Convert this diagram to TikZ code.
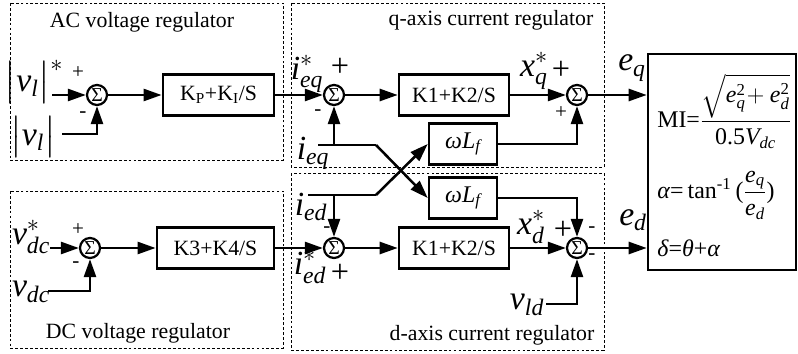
\documentclass[tikz,border=0pt]{standalone}
\usepackage{amsmath}
\usepackage{fontspec}
\setmainfont{Liberation Serif}
\usetikzlibrary{positioning, arrows.meta}
\tikzset{
  blk/.style={draw, line width=1.8pt, minimum height=1.03cm, inner sep=1pt,
              font=\fontsize{15.5}{18}\selectfont},
  sumc/.style={draw, circle, line width=1.6pt, minimum size=0.5cm, inner sep=0pt,
               font=\fontsize{14}{16}\selectfont},
  sig/.style={-{Triangle[length=4.5mm, width=3mm]}, line width=1.8pt},
  wire/.style={line width=1.8pt},
  zone/.style={draw, line width=0.6pt, dash pattern=on 2pt off 1.5pt},
  ttl/.style={font=\fontsize{15.5}{18}\selectfont, inner sep=0pt},
  var/.style={font=\fontsize{24}{26}\selectfont, inner sep=0pt},
  sgn/.style={font=\fontsize{15}{18}\selectfont, inner sep=0pt},
  bigsgn/.style={font=\fontsize{23}{26}\selectfont, inner sep=0pt},
  eqn/.style={font=\fontsize{17}{20}\selectfont, inner sep=0pt, anchor=west},
}

\begin{document}
\begin{tikzpicture}[x=0.025cm, y=-0.025cm]
  \useasboundingbox (0,0) rectangle (798,354);

  % regulator frames
  \draw[zone] (10,3) rectangle (283,160);
  \draw[zone] (291,3) rectangle (604,167);
  \draw[zone] (10,191) rectangle (283,348);
  \draw[zone] (291,173) rectangle (604,350);
  \node[ttl] (tac) at (142,22)  {AC voltage regulator};
  \node[ttl] (tq)  at (491,20)  {q-axis current regulator};
  \node[ttl] (tdc) at (138,333) {DC voltage regulator};
  \node[ttl] (td)  at (492,335) {d-axis current regulator};

  % summing junctions
  \node[sumc] (sac) at (97,95)   {Σ};
  \node[sumc] (sq)  at (334,95)  {Σ};
  \node[sumc] (sq2) at (577,95)  {Σ};
  \node[sumc] (sdc) at (90,248)  {Σ};
  \node[sumc] (sd)  at (334,248) {Σ};
  \node[sumc] (sd2) at (577,248) {Σ};

  % controller blocks
  \node[blk, minimum width=2.78cm] (kpi) at (218.5,95)  {K\textsubscript{P}+K\textsubscript{I}/S};
  \node[blk, minimum width=2.93cm] (k34) at (215.5,248) {K3+K4/S};
  \node[blk, minimum width=2.75cm] (kq)  at (454,95)    {K1+K2/S};
  \node[blk, minimum width=2.75cm] (kd)  at (454,248)   {K1+K2/S};
  \node[blk, minimum width=1.7cm, font=\fontsize{17}{20}\selectfont] (wq) at (463,144) {$\textit{ωL}_{\textit{f}}$};
  \node[blk, minimum width=1.7cm, font=\fontsize{17}{20}\selectfont] (wd) at (463,198) {$\textit{ωL}_{\textit{f}}$};
  \node[draw, line width=1.8pt, minimum width=3.7cm, minimum height=5.4cm] (mod) at (722,162) {};

  % modulation index and angle
  \node[eqn] (mi)  at (657,111) {MI=$\dfrac{\sqrt{\textit{e}_{\textit{q}}^{\text{2}}\!+\textit{e}_{\textit{d}}^{\text{2}}}}{\text{0.5}\textit{V}_{\textit{dc}}}$};
  \node[eqn] (ang) at (657,195) {\textit{α}=\,tan$^{\text{-1}}$\,($\dfrac{\textit{e}_{\textit{q}}}{\textit{e}_{\textit{d}}}$)};
  \node[eqn] (dlt) at (657,248) {\textit{δ}=\textit{θ}+\textit{α}};

  % signal labels
  \node[var] (vlr)  at (34,82)   {$\big|\textit{v}_{\textit{l}}\big|^{*}$};
  \node[var] (vl)   at (33,137)  {$\big|\textit{v}_{\textit{l}}\big|$};
  \node[var] (vdcr) at (31,237)  {$\textit{v}^{*}_{\textit{dc}}$};
  \node[var] (vdc)  at (31,292)  {$\textit{v}_{\textit{dc}}$};
  \node[var] (ieqr) at (307,74)  {$\textit{i}^{*}_{\textit{eq}}$};
  \node[var] (ieq)  at (313,153) {$\textit{i}_{\textit{eq}}$};
  \node[var] (ied)  at (311,207) {$\textit{i}_{\textit{ed}}$};
  \node[var] (iedr) at (310,267) {$\textit{i}^{*}_{\textit{ed}}$};
  \node[var] (xq)   at (534,71)  {$\textit{x}^{*}_{\textit{q}}$};
  \node[var] (xd)   at (531,227) {$\textit{x}^{*}_{\textit{d}}$};
  \node[var] (eq)   at (632,68)  {$\textit{e}_{\textit{q}}$};
  \node[var] (ed)   at (633,220) {$\textit{e}_{\textit{d}}$};
  \node[var] (vld)  at (527,305) {$\textit{v}_{\textit{ld}}$};

  % signs
  \node[sgn]    (pac)  at (78,73)   {+};
  \node[sgn]    (mac)  at (83,115)  {-};
  \node[bigsgn] (pq)   at (340,67)  {+};
  \node[sgn]    (mq)   at (318,113) {-};
  \node[bigsgn] (pq2)  at (561,70)  {+};
  \node[sgn]    (pq2b) at (561,113) {+};
  \node[sgn]    (md)   at (327,230) {-};
  \node[bigsgn] (pd)   at (340,273) {+};
  \node[bigsgn] (pd2)  at (563,230) {+};
  \node[sgn]    (md2a) at (592,230) {-};
  \node[sgn]    (md2b) at (592,257) {-};
  \node[sgn]    (pdc)  at (78,230)  {+};
  \node[sgn]    (mdc)  at (76,265)  {-};

  % free ends and bends
  \coordinate (vlro)  at (52,95);
  \coordinate (vlo)   at (62,134);
  \coordinate (vdcro) at (50,248);
  \coordinate (vdco)  at (48,291);
  \coordinate (ieqo)  at (318,145);
  \coordinate (ieqk)  at (376,145);
  \coordinate (iedo)  at (308,195);
  \coordinate (iedk)  at (376,195);
  \coordinate (vldo)  at (546,304);

  % q-axis path
  \draw[sig] (vlro) -- (sac);
  \draw[sig] (vlo) -| (sac);
  \draw[sig] (sac) -- (kpi);
  \draw[sig] (kpi) -- (sq);
  \draw[sig] (sq) -- (kq);
  \draw[sig] (kq) -- (sq2);
  \draw[sig] (sq2) -- (sq2 -| mod.west);
  \draw[wire] (ieqo) -- (ieqk);
  \draw[sig] (sq |- ieqk) -- (sq);
  \draw[sig] (ieqk) -- (wd.west);
  \draw[sig] (wq) -| (sq2);

  % d-axis path
  \draw[sig] (vdcro) -- (sdc);
  \draw[sig] (vdco) -| (sdc);
  \draw[sig] (sdc) -- (k34);
  \draw[sig] (k34) -- (sd);
  \draw[sig] (sd) -- (kd);
  \draw[sig] (kd) -- (sd2);
  \draw[sig] (sd2) -- (sd2 -| mod.west);
  \draw[wire] (iedo) -- (iedk);
  \draw[sig] (sd |- iedk) -- (sd);
  \draw[sig] (iedk) -- (wq.west);
  \draw[sig] (wd) -| (sd2);
  \draw[sig] (vldo) -| (sd2);
\end{tikzpicture}
\end{document}
